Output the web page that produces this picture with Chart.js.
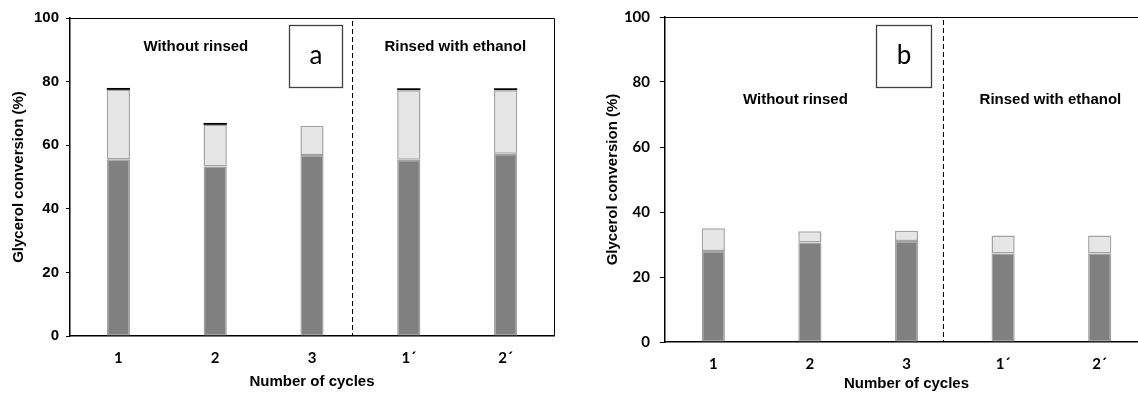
<!DOCTYPE html>
<html>
<head>
<meta charset="utf-8">
<script src="https://cdn.jsdelivr.net/npm/chart.js@4/dist/chart.umd.min.js"></script>
<style>
  html, body { margin: 0; padding: 0; background: #fff; overflow: hidden; width: 1138px; height: 396px; }
  .wrap { position: absolute; top: 0; height: 396px; }
  #wa { left: 0; width: 569px; }
  #wb { left: 580px; width: 600px; }
</style>
</head>
<body>
<div class="wrap" id="wa"><canvas id="ca"></canvas></div>
<div class="wrap" id="wb"><canvas id="cb"></canvas></div>
<script>
// ---- data ----
const categories = ['1', '2', '3', '1´', '2´'];
// Panel a
const aDark  = [55.6, 53.3, 56.9, 55.4, 57.3];
const aLight = [21.8, 13.1, 9.2, 21.9, 20.0];
const aCap   = [0.6, 0.6, 0, 0.6, 0.6];
// Panel b
const bDark  = [28.0, 30.6, 31.1, 27.2, 27.2];
const bLight = [7.0, 3.5, 3.1, 5.6, 5.6];
const yTicks = [0, 20, 40, 60, 80, 100];
const yTitle = 'Glycerol conversion (%)';
const xTitle = 'Number of cycles';
const noteLeft = 'Without rinsed';
const noteRight = 'Rinsed with ethanol';

const DARK = '#808080', LIGHT = '#e6e6e6', EDGE = '#a3a3a3';

function makeChart(id, dark, light, cap, cfg) {
  const datasets = [
    { data: dark, backgroundColor: DARK, borderColor: EDGE, borderWidth: 1.5, borderSkipped: false },
    { data: light, backgroundColor: LIGHT, borderColor: EDGE, borderWidth: 1.5, borderSkipped: false }
  ];
  if (cap) datasets.push({ data: cap, backgroundColor: '#000', borderWidth: 0 });
  datasets.forEach(d => { d.barPercentage = 0.24; d.categoryPercentage = 1; });

  const overlay = {
    id: 'overlay',
    afterDraw(chart) {
      const { ctx, chartArea: ca, scales: { x, y } } = chart;
      ctx.save();
      // frame top/right
      ctx.strokeStyle = '#000'; ctx.lineWidth = 1;
      ctx.beginPath();
      ctx.moveTo(ca.left, ca.top + 0.5); ctx.lineTo(ca.right + 0.5, ca.top + 0.5);
      ctx.lineTo(ca.right + 0.5, ca.bottom);
      ctx.stroke();
      // divider dashed
      const dx = Math.round(x.getPixelForValue(cfg.divider)) + 0.5;
      ctx.setLineDash([5, 3]);
      ctx.beginPath();
      ctx.moveTo(dx, ca.top + 3); ctx.lineTo(dx, ca.bottom);
      ctx.stroke();
      ctx.setLineDash([]);
      // notes
      ctx.fillStyle = '#000';
      ctx.font = 'bold 15px "Liberation Sans", Arial, sans-serif';
      ctx.textAlign = 'center'; ctx.textBaseline = 'middle';
      ctx.fillText(noteLeft, x.getPixelForValue(cfg.noteLX), y.getPixelForValue(cfg.noteY));
      ctx.fillText(noteRight, x.getPixelForValue(cfg.noteRX), y.getPixelForValue(cfg.noteY));
      // letter box
      const bx0 = Math.round(x.getPixelForValue(cfg.box[0])) + 0.5;
      const bx1 = Math.round(x.getPixelForValue(cfg.box[1])) + 0.5;
      const by0 = Math.round(y.getPixelForValue(cfg.box[2])) + 0.5;
      const by1 = Math.round(y.getPixelForValue(cfg.box[3])) + 0.5;
      ctx.fillStyle = '#fff';
      ctx.fillRect(bx0, by0, bx1 - bx0, by1 - by0);
      ctx.strokeStyle = '#404040'; ctx.lineWidth = 1.3;
      ctx.strokeRect(bx0, by0, bx1 - bx0, by1 - by0);
      ctx.fillStyle = '#000';
      ctx.font = '26px Lato, "Open Sans", sans-serif';
      ctx.fillText(cfg.letter, (bx0 + bx1) / 2, (by0 + by1) / 2 - 1);
      ctx.restore();
    }
  };

  return new Chart(document.getElementById(id), {
    type: 'bar',
    data: { labels: categories, datasets },
    plugins: [overlay],
    options: {
      responsive: true, maintainAspectRatio: false, animation: false,
      layout: { padding: cfg.pad },
      plugins: { legend: { display: false }, tooltip: { enabled: false } },
      scales: {
        x: {
          stacked: true,
          grid: { display: false, drawTicks: false },
          border: { display: true, color: '#000', width: 1.5 },
          ticks: { color: '#000', font: { family: 'Lato, sans-serif', weight: 'bold', size: 15 }, padding: cfg.xTickPad },
          title: { display: true, text: xTitle, color: '#000',
                   font: { family: '"Liberation Sans", Arial, sans-serif', weight: 'bold', size: 15 },
                   padding: { top: 0, bottom: cfg.xTitlePad } },
          afterFit(s) { s.height = cfg.xH; s.paddingLeft = 0; s.paddingRight = 0; }
        },
        y: {
          stacked: true, min: 0, max: 100,
          afterBuildTicks(s) { s.ticks = yTicks.map(v => ({ value: v })); },
          grid: { display: true, drawOnChartArea: false, drawTicks: true, tickLength: cfg.tickLen, color: '#000' },
          border: { display: true, color: '#000', width: 1.5 },
          ticks: { color: '#000', font: cfg.yTickFont, padding: cfg.yTickPad },
          title: { display: true, text: yTitle, color: '#000',
                   font: { family: '"Liberation Sans", Arial, sans-serif', weight: 'bold', size: 15 },
                   padding: { top: cfg.yTitlePad, bottom: 0 } },
          afterFit(s) { s.width = cfg.yW; s.paddingTop = 0; s.paddingBottom = 0; }
        }
      }
    }
  });
}

makeChart('ca', aDark, aLight, aCap, {
  pad: { top: 18, right: 15, left: 0, bottom: 0 }, yW: 70, xH: 60,
  xTickPad: 13, xTitlePad: 5, yTitlePad: 10,
  tickLen: 4, yTickPad: 7,
  yTickFont: { family: '"Liberation Sans", Arial, sans-serif', weight: 'bold', size: 15 },
  divider: 2.41, noteLX: 0.8, noteRX: 3.48, noteY: 90.9,
  box: [1.76, 2.31, 97.8, 78.3], letter: 'a'
});
makeChart('cb', bDark, bLight, null, {
  pad: { top: 17, right: 32, left: 0, bottom: 0 }, yW: 85, xH: 54,
  xTickPad: 13, xTitlePad: 3, yTitlePad: 24,
  tickLen: 5, yTickPad: 10,
  yTickFont: { family: 'Lato, sans-serif', weight: 'bold', size: 15 },
  divider: 2.375, noteLX: 0.85, noteRX: 3.49, noteY: 74.5,
  box: [1.68, 2.25, 97.6, 78.5], letter: 'b'
});
</script>
</body>
</html>
